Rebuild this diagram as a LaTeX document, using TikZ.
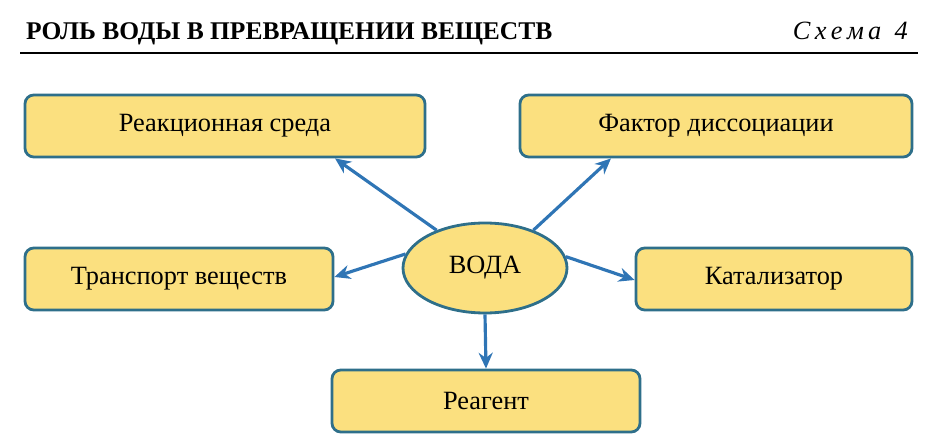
\documentclass[tikz,border=0pt]{standalone}
\usepackage{fontspec}
\setmainfont{Liberation Serif}
\usetikzlibrary{arrows.meta,positioning,shapes.geometric}

\definecolor{boxfill}{HTML}{FBE07F}
\definecolor{boxline}{HTML}{2E6F8A}
\definecolor{arrowblue}{HTML}{2F75B5}

\tikzset{
  role/.style={draw=boxline, line width=1.6pt, fill=boxfill, rounded corners=5pt,
    minimum height=62*0.02cm, font=\fontsize{15}{17}\selectfont, inner sep=0pt},
  link/.style={arrowblue, line width=1.8pt, -{Stealth[length=9pt,width=8pt]}}
}

\begin{document}
\begin{tikzpicture}[x=0.02cm,y=-0.02cm]
  \useasboundingbox (0,0) rectangle (948,442);

  % heading
  \node[anchor=base west, font=\fontsize{14.5}{16}\selectfont\bfseries] (title) at (20,40) {РОЛЬ ВОДЫ В ПРЕВРАЩЕНИИ ВЕЩЕСТВ};
  \node[anchor=base east, font=\fontsize{15}{17}\selectfont\itshape] (scheme) at (914,40) {С\,х\,е\,м\,а\enspace 4};
  \draw[line width=1.6pt] (20,53) -- (918,53);

  % boxes
  \node[role, minimum width=400*0.02cm] (sreda) at (225,126) {Реакционная среда};
  \node[role, minimum width=392*0.02cm] (faktor) at (716,126) {Фактор диссоциации};
  \node[role, minimum width=308*0.02cm] (transport) at (179,279) {Транспорт веществ};
  \node[role, minimum width=276*0.02cm] (kataliz) at (774,279) {Катализатор};
  \node[role, minimum width=308*0.02cm] (reagent) at (486,401) {Реагент};
  \node[ellipse, draw=boxline, line width=1.6pt, fill=boxfill, minimum width=164*0.02cm,
    minimum height=90*0.02cm, inner sep=0pt, font=\fontsize{15}{17}\selectfont] (voda) at (485,268) {ВОДА};

  % arrows
  \draw[link] (voda.142) -- ([xshift=110*0.02cm]sreda.south);
  \draw[link] (voda.38) -- ([xshift=-105*0.02cm]faktor.south);
  \draw[link] (voda.170) -- ([yshift=2*0.02cm]transport.east);
  \draw[link] (voda.8) -- ([yshift=-1*0.02cm]kataliz.west);
  \draw[link] (voda.south) -- (reagent.north);
\end{tikzpicture}
\end{document}
